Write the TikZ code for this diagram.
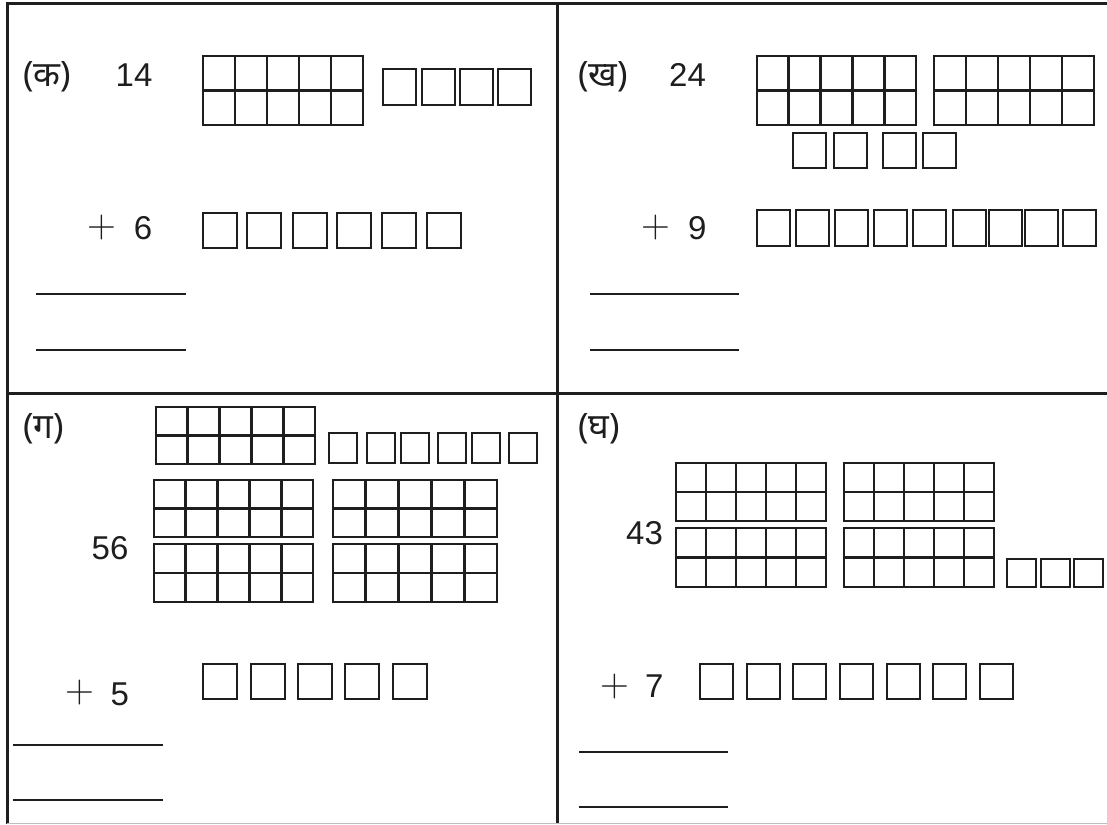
\documentclass[tikz,border=0pt]{standalone}
\usepackage{fontspec}
\newfontfamily\numfont{Liberation Sans}
\newfontfamily\devfont[Script=Devanagari]{Noto Sans}
\definecolor{inkc}{RGB}{30,30,30}
\newcommand\tframe[4]{%
  \draw[gridline] (#1,#2) rectangle (#3,#4);
  \draw[gridline] (#1,{(#2+#4)/2}) -- (#3,{(#2+#4)/2});
  \foreach \k in {1,2,3,4}{\draw[gridline] ({#1+(#3-#1)*\k/5},#2) -- ({#1+(#3-#1)*\k/5},#4);}
}
\newcommand\unitrow[4]{%
  \foreach \u in {#1}{\draw[unitbox] (\u,#3) rectangle ({\u+#2},#4);}
}
\begin{document}
\begin{tikzpicture}[x=1pt,y=-1pt,
  frameline/.style={draw=inkc,line width=3pt},
  gridline/.style={draw=inkc,line width=2.8pt},
  unitbox/.style={draw=inkc,line width=2.8pt},
  ansline/.style={draw=inkc,line width=2.6pt},
  num/.style={font=\numfont\fontsize{33}{33}\selectfont,text=inkc,inner sep=0pt,anchor=base west},
  lab/.style={font=\devfont\fontsize{35}{35}\selectfont,text=inkc,inner sep=0pt,anchor=base west},
  plus/.style={font=\rmfamily\fontsize{40}{40}\selectfont,text=inkc,inner sep=0pt,anchor=center}]
\useasboundingbox (0,0) rectangle (1107,824);
\fill[white] (0,0) rectangle (1107,824);
% frame
\draw[frameline] (6,4) -- (1107,4);
\draw[frameline] (7,4) -- (7,824);
\draw[frameline] (557.5,4) -- (557.5,824);
\draw[frameline] (7,393.5) -- (1107,393.5);
\draw[draw=black!25,line width=1pt] (7,823.5) -- (1107,823.5);

% ---------- (A) ----------
\node[lab] (la) at (23,87) {(क)};
\node[num] (na) at (115.5,87) {14};
\tframe{203}{56}{363}{125}
\unitrow{383,422,460,498}{33}{69}{105}
\node[plus] (pa) at (102,227.5) {+};
\node[num] (ma) at (133.6,239.5) {6};
\unitrow{203,247,293,337,382,427}{34}{213}{248}
\draw[ansline] (36,294) -- (186,294);
\draw[ansline] (36,350) -- (186,350);

% ---------- (B) ----------
\node[lab] (lb) at (578,87) {(ख)};
\node[num] (nb) at (669,87) {24};
\tframe{757}{56}{916}{125}
\tframe{934}{56}{1094}{125}
\unitrow{793,834,883,923}{33}{133}{168}
\node[plus] (pb) at (656,227.5) {+};
\node[num] (mb) at (688,239.5) {9};
\unitrow{757,796,835,874,913,953,989,1025,1063}{33}{210}{246}
\draw[ansline] (590,294) -- (739,294);
\draw[ansline] (590,350) -- (739,350);

% ---------- (C) ----------
\node[lab] (lc) at (23,438) {(ग)};
\tframe{156}{407}{315}{464}
\unitrow{329,367,401,438,472,509}{28}{433}{463}
\tframe{154}{480}{313}{537}
\tframe{333}{480}{497}{537}
\tframe{154}{544}{313}{602}
\tframe{333}{544}{497}{602}
\node[num] (nc) at (91.5,559) {56};
\node[plus] (pc) at (79.5,693) {+};
\node[num] (mc) at (110.5,705) {5};
\unitrow{203,251,298,345,393}{34}{664}{699}
\draw[ansline] (13,745) -- (163,745);
\draw[ansline] (13,800) -- (163,800);

% ---------- (D) ----------
\node[lab] (ld) at (578,438) {(घ)};
\tframe{676}{463}{826}{521}
\tframe{844}{463}{994}{521}
\tframe{676}{528}{826}{587}
\tframe{844}{528}{994}{587}
\unitrow{1007,1041,1074}{29}{559}{587}
\node[num] (nd) at (626,544) {43};
\node[plus] (pd) at (615,687) {+};
\node[num] (md) at (645,697) {7};
\unitrow{700,747,793,840,887,933,980}{33}{664}{699}
\draw[ansline] (579,752) -- (728,752);
\draw[ansline] (579,807) -- (728,807);
\end{tikzpicture}
\end{document}
